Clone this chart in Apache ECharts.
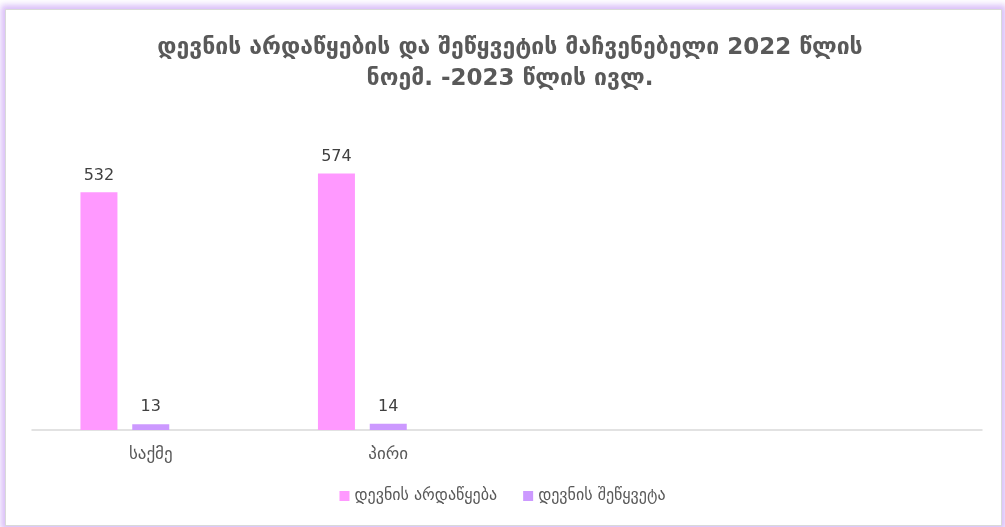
<!DOCTYPE html>
<html>
<head>
<meta charset="utf-8">
<script src="https://cdn.jsdelivr.net/npm/echarts@6/dist/echarts.min.js"></script>
<style>
  html,body{margin:0;padding:0;background:#fff;}
  #frame{position:absolute;left:5px;top:9px;width:995px;height:515px;border:1px solid #d9d9d9;
    box-shadow:0 0 6px 4px rgba(205,170,245,0.75);background:#fff;}
  #main{position:absolute;left:0;top:0;width:1005px;height:527px;}
</style>
</head>
<body>
<div id="frame"></div>
<div id="main"></div>
<script>
var categories = ['საქმე', 'პირი', '', ''];
var seriesNames = ['დევნის არდაწყება', 'დევნის შეწყვეტა'];
var arrValues = [532, 574];
var stopValues = [13, 14];
var titleText = 'დევნის არდაწყების და შეწყვეტის მაჩვენებელი 2022 წლის\nნოემ. -2023 წლის ივლ.';

var chart = echarts.init(document.getElementById('main'));
var font = '"DejaVu Sans", "Noto Sans", sans-serif';
var labelStyle = {
  show: true,
  position: 'top',
  distance: 9,
  color: '#404040',
  fontSize: 16,
  fontFamily: font
};
var option = {
  backgroundColor: 'transparent',
  animation: false,
  title: {
    text: titleText,
    left: 505,
    top: 28,
    textAlign: 'center',
    textStyle: {
      color: '#595959',
      fontSize: 23,
      fontWeight: 'bold',
      lineHeight: 31,
      fontFamily: font
    }
  },
  legend: {
    data: seriesNames,
    bottom: 18,
    left: 'center',
    itemWidth: 10,
    itemHeight: 10,
    itemGap: 26,
    icon: 'rect',
    textStyle: {color: '#595959', fontSize: 16, fontFamily: font}
  },
  grid: {left: 32, right: 23, top: 162, bottom: 97},
  xAxis: {
    type: 'category',
    data: categories,
    axisLine: {lineStyle: {color: '#d9d9d9', width: 1.5}},
    axisTick: {show: false},
    axisLabel: {color: '#595959', fontSize: 17, margin: 16, fontFamily: font}
  },
  yAxis: {
    type: 'value',
    min: 0,
    max: 600,
    show: false,
    splitLine: {show: false}
  },
  series: [
    {
      name: seriesNames[0],
      type: 'bar',
      data: arrValues,
      barWidth: 37,
      barGap: '40%',
      itemStyle: {color: '#ff99ff'},
      label: labelStyle
    },
    {
      name: seriesNames[1],
      type: 'bar',
      data: stopValues,
      barWidth: 37,
      itemStyle: {color: '#cc99ff'},
      label: labelStyle
    },
    {
      // empty third slot as in the source chart
      name: 'empty',
      type: 'bar',
      data: [],
      barWidth: 37,
      silent: true
    }
  ]
};
chart.setOption(option);
</script>
</body>
</html>
